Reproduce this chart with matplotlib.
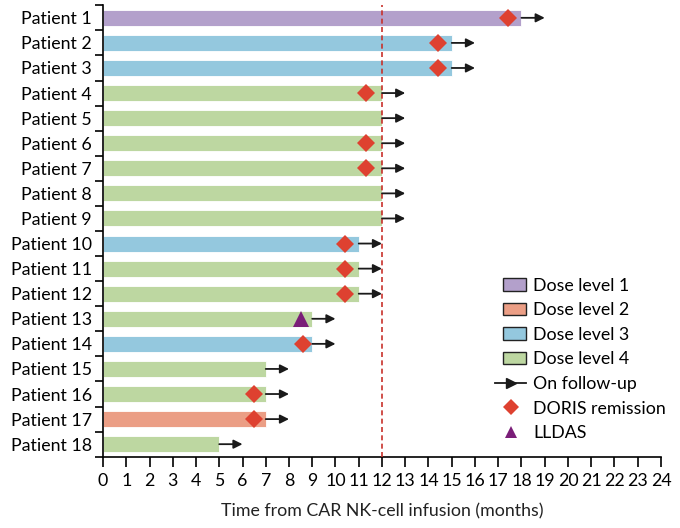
import matplotlib
matplotlib.use("Agg")
import matplotlib.pyplot as plt
from matplotlib.patches import Patch, Rectangle
from matplotlib.lines import Line2D
from matplotlib.legend_handler import HandlerPatch, HandlerLine2D

plt.rcParams['font.family'] = ['Lato', 'DejaVu Sans']

patients = [f"Patient {i}" for i in range(1, 19)]
durations = [18, 15, 15, 12, 12, 12, 12, 12, 12, 11, 11, 11, 9, 9, 7, 7, 7, 5]
dose_levels = [1, 3, 3, 4, 4, 4, 4, 4, 4, 3, 4, 4, 4, 3, 4, 4, 2, 4]
doris = [17.4, 14.4, 14.4, 11.3, None, 11.3, 11.3, None, None, 10.4, 10.4, 10.4,
         None, 8.6, None, 6.5, 6.5, None]
lldas = [None] * 12 + [8.5] + [None] * 5
followup_len = 1.0
cutoff = 12
xticks = list(range(0, 25))

dose_colors = {1: '#B3A0CB', 2: '#EB9E85', 3: '#94C8DE', 4: '#BDD7A1'}
FS = 12.8

fig = plt.figure(figsize=(6.8, 5.28), dpi=100)
ax = fig.add_axes([0.1515, 0.135, 0.8205, 0.855])

ys = list(range(len(patients)))
for y, d, dl in zip(ys, durations, dose_levels):
    ax.barh(y, d, height=0.64, color=dose_colors[dl], edgecolor='white',
            linewidth=0.6, zorder=2)
    ax.annotate('', xy=(d + followup_len, y), xytext=(d, y),
                arrowprops=dict(arrowstyle='-|>', color='#1a1a1a', lw=1.3,
                                mutation_scale=13, shrinkA=0, shrinkB=0),
                zorder=4)
for y, v in zip(ys, doris):
    if v is not None:
        ax.plot(v, y, marker='D', color='#DE4130', markersize=9.5,
                markeredgewidth=0, zorder=5, linestyle='none')
for y, v in zip(ys, lldas):
    if v is not None:
        ax.plot(v, y, marker='^', color='#7A1E78', markersize=11,
                markeredgewidth=0, zorder=5, linestyle='none')

ax.axvline(cutoff, color='#C8312B', linestyle=(0, (3, 2)), lw=1.2, zorder=3)

ax.set_xlim(0, 24)
ax.set_ylim(len(patients) - 0.5, -0.5)
ax.set_xticks(xticks)
ax.set_xticklabels([str(t) for t in xticks], fontsize=FS)
ax.set_yticks(ys)
ax.set_yticklabels(patients, fontsize=FS)
ax.set_yticks([y - 0.5 for y in range(len(patients) + 1)], minor=True)
ax.tick_params(axis='y', which='major', length=0, pad=8)
ax.tick_params(axis='y', which='minor', length=6, width=1.2, direction='out')
ax.tick_params(axis='x', which='major', length=7, width=1.2, direction='out', pad=5)
ax.set_xlabel('Time from CAR NK-cell infusion (months)', fontsize=FS, labelpad=10,
              color='#222222')

for s in ['top', 'right']:
    ax.spines[s].set_visible(False)
for s in ['left', 'bottom']:
    ax.spines[s].set_linewidth(1.2)


def rect_func(legend, orig_handle, xdescent, ydescent, width, height, fontsize):
    w = width * 0.74
    return Rectangle((-xdescent + width - w, -ydescent), w, height)


class ShiftedMarkerHandler(HandlerLine2D):
    def get_xdata(self, legend, xdescent, ydescent, width, height, fontsize):
        xdata, _ = super().get_xdata(legend, xdescent, ydescent, width, height, fontsize)
        return xdata, [-xdescent + 0.6 * width]


handles = [Patch(facecolor=dose_colors[i], edgecolor='#222222', linewidth=1.0,
                 label=f'Dose level {i}') for i in [1, 2, 3, 4]]
arrow_h = Line2D([0], [0], color='#1a1a1a', lw=1.3, marker='>',
                 markevery=[1], markersize=7, label='On follow-up')
doris_h = Line2D([0], [0], color='#DE4130', marker='D', linestyle='none',
                 markersize=8, markeredgewidth=0, label='DORIS remission')
lldas_h = Line2D([0], [0], color='#7A1E78', marker='^', linestyle='none',
                 markersize=9, markeredgewidth=0, label='LLDAS')
handles += [arrow_h, doris_h, lldas_h]
hmap = {Patch: HandlerPatch(patch_func=rect_func),
        doris_h: ShiftedMarkerHandler(), lldas_h: ShiftedMarkerHandler()}
leg = ax.legend(handles=handles, handler_map=hmap, loc='upper left',
                bbox_to_anchor=(0.69, 0.412),
                frameon=False, fontsize=FS, handlelength=1.75, handletextpad=0.4,
                labelspacing=0.48, borderaxespad=0)

fig.savefig('out.png', dpi=100)
